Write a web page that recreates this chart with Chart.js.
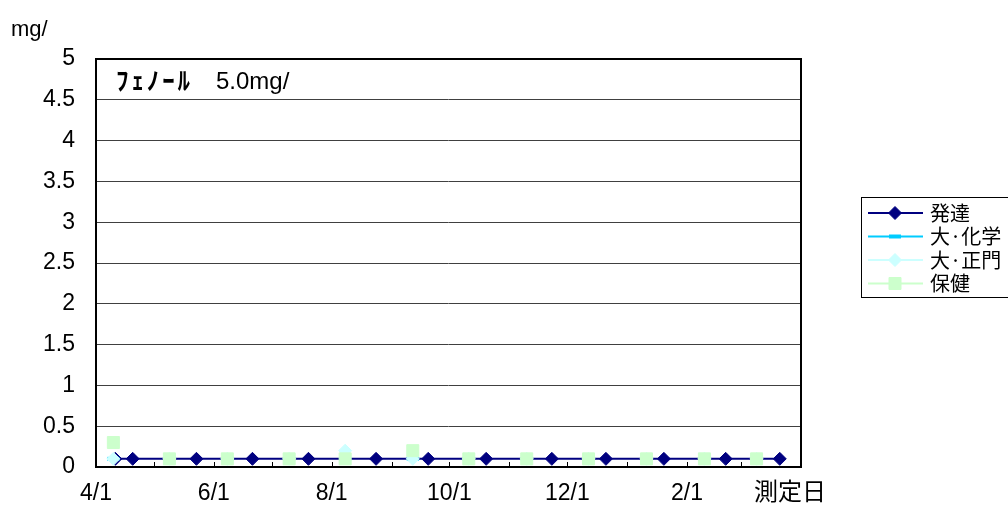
<!DOCTYPE html>
<html>
<head>
<meta charset="utf-8">
<script src="https://cdn.jsdelivr.net/npm/chart.js@4.4.1/dist/chart.umd.min.js"></script>
<style>
  html, body { margin: 0; background: #fff; }
</style>
</head>
<body>
<canvas id="phenolChart" width="1008" height="523"></canvas>
<script>
// data (dates are M/D within one fiscal year, 4/1 .. 3/31)
const seriesNames = ['発達', '大·化学', '大·正門', '保健'];

const hattatsuDates  = ['4/11', '4/20', '5/23', '6/21', '7/20', '8/24', '9/20', '10/20', '11/23', '12/21', '1/20', '2/21', '3/21'];
const hattatsuValues = [0.1, 0.1, 0.1, 0.1, 0.1, 0.1, 0.1, 0.1, 0.1, 0.1, 0.1, 0.1, 0.1];

const kagakuDates  = ['4/10', '5/9', '6/8', '7/10', '8/8', '9/12', '10/11', '11/10', '12/12', '1/11', '2/10', '3/9'];
const kagakuValues = [0.1, 0.1, 0.1, 0.1, 0.1, 0.1, 0.1, 0.1, 0.1, 0.1, 0.1, 0.1];

const seimonDates  = ['4/10', '5/9', '6/8', '7/10', '8/8', '9/12', '10/11', '11/10', '12/12', '1/11', '2/10', '3/9'];
const seimonValues = [0.1, 0.1, 0.1, 0.1, 0.2, 0.1, 0.1, 0.1, 0.1, 0.1, 0.1, 0.1];

const hokenDates  = ['4/10', '5/9', '6/8', '7/10', '8/8', '9/12', '10/11', '11/10', '12/12', '1/11', '2/10', '3/9'];
const hokenValues = [0.3, 0.1, 0.1, 0.1, 0.1, 0.2, 0.1, 0.1, 0.1, 0.1, 0.1, 0.1];

const monthTicks  = ['4/1', '5/1', '6/1', '7/1', '8/1', '9/1', '10/1', '11/1', '12/1', '1/1', '2/1', '3/1'];
const xTickLabels = ['4/1', '6/1', '8/1', '10/1', '12/1', '2/1'];
const yMin = 0, yMax = 5, yStep = 0.5;

const unitText = 'mg/';
const noteName = 'ﾌｪﾉｰﾙ';
const noteLimit = '5.0mg/';
const xTitle = '測定日';

// days from 4/1
const monthOrder = [4, 5, 6, 7, 8, 9, 10, 11, 12, 1, 2, 3];
const monthDays  = [30, 31, 30, 31, 31, 30, 31, 30, 31, 31, 28, 31];
function dayOf(s) {
  const [m, d] = s.split('/').map(Number);
  let n = 0;
  for (let i = 0; i < monthOrder.indexOf(m); i++) n += monthDays[i];
  return n + d - 1;
}
const yearEnd = monthDays.reduce((a, b) => a + b, 0);
const tickValues = monthTicks.map(dayOf).concat([yearEnd]);

function pts(dates, values) {
  return dates.map((d, i) => ({ x: dayOf(d), y: values[i] }));
}

const sansFont = '"Liberation Sans", Arial, sans-serif';
const cjkFont = '"Noto Sans CJK JP", sans-serif';

// plot frame, inward tick marks, texts and the boxed legend
const decor = {
  id: 'decor',
  afterDraw(chart) {
    const { ctx, chartArea: a, scales } = chart;
    ctx.save();

    // tick marks pointing up into the plot
    ctx.strokeStyle = '#000';
    ctx.lineWidth = 1;
    tickValues.forEach(v => {
      const x = Math.round(scales.x.getPixelForValue(v)) + 0.5;
      ctx.beginPath();
      ctx.moveTo(x, a.bottom - 5);
      ctx.lineTo(x, a.bottom);
      ctx.stroke();
    });

    ctx.lineWidth = 2;
    ctx.strokeRect(a.left, a.top, a.right - a.left, a.bottom - a.top);

    ctx.fillStyle = '#000';
    ctx.textBaseline = 'alphabetic';
    ctx.textAlign = 'left';
    ctx.font = '22px ' + sansFont;
    ctx.fillText(unitText, 11, 36);

    ctx.font = 'bold 25px ' + cjkFont;
    [...noteName].forEach((ch, i) => ctx.fillText(ch, 116 + i * 15.4, 90));
    ctx.font = '24px ' + sansFont;
    ctx.fillText(noteLimit, 216, 89);

    ctx.font = '24px ' + cjkFont;
    ctx.textAlign = 'center';
    ctx.fillText(xTitle, 790, 500);

    // legend
    ctx.lineWidth = 1;
    ctx.strokeRect(861.5, 197.5, 200, 100);
    chart.data.datasets.forEach((ds, i) => {
      const y = 213 + i * 23.5;
      ctx.strokeStyle = ds.borderColor;
      ctx.lineWidth = 2;
      ctx.beginPath();
      ctx.moveTo(868, y);
      ctx.lineTo(923, y);
      ctx.stroke();
      ctx.fillStyle = ds.pointBackgroundColor;
      ctx.strokeStyle = ds.pointBorderColor;
      ctx.lineWidth = ds.pointBorderWidth;
      Chart.helpers.drawPoint(ctx, {
        pointStyle: ds.pointStyle,
        radius: ds.pointRadius,
        borderWidth: ds.pointBorderWidth
      }, 895, y);
      ctx.fillStyle = '#000';
      ctx.font = '20px ' + cjkFont;
      ctx.textAlign = 'left';
      ctx.textBaseline = 'middle';
      ctx.fillText(ds.label, 930, y);
    });
    ctx.restore();
  }
};

new Chart(document.getElementById('phenolChart'), {
  type: 'line',
  data: {
    datasets: [
      {
        label: seriesNames[0],
        data: pts(hattatsuDates, hattatsuValues),
        borderColor: '#000080',
        borderWidth: 2,
        pointStyle: 'rectRot',
        pointRadius: 6.5,
        pointBackgroundColor: '#000080',
        pointBorderColor: '#000080',
        pointBorderWidth: 1,
        order: 3
      },
      {
        label: seriesNames[1],
        data: pts(kagakuDates, kagakuValues),
        showLine: false,
        borderColor: '#00ccff',
        pointStyle: 'line',
        pointRadius: 6,
        pointBackgroundColor: '#00ccff',
        pointBorderColor: '#00ccff',
        pointBorderWidth: 4,
        order: 2
      },
      {
        label: seriesNames[2],
        data: pts(seimonDates, seimonValues),
        showLine: false,
        borderColor: '#ccffff',
        pointStyle: 'rectRot',
        pointRadius: 6.5,
        pointBackgroundColor: '#ccffff',
        pointBorderColor: '#ccffff',
        pointBorderWidth: 1,
        order: 1
      },
      {
        label: seriesNames[3],
        data: pts(hokenDates, hokenValues),
        showLine: false,
        borderColor: '#ccffcc',
        pointStyle: 'rect',
        pointRadius: 8.5,
        pointBackgroundColor: '#ccffcc',
        pointBorderColor: '#ccffcc',
        pointBorderWidth: 1,
        order: 0
      }
    ]
  },
  options: {
    responsive: false,
    animation: false,
    layout: { padding: { top: 59, right: 207, bottom: 0, left: 0 } },
    plugins: { legend: { display: false }, tooltip: { enabled: false } },
    scales: {
      x: {
        type: 'linear',
        min: 0,
        max: yearEnd,
        afterBuildTicks: s => { s.ticks = tickValues.map(v => ({ value: v })); },
        afterFit: s => { s.height = 56; },
        grid: { display: false, drawTicks: false },
        border: { display: false },
        ticks: {
          autoSkip: false,
          maxRotation: 0,
          padding: 13,
          color: '#000',
          font: { family: sansFont, size: 23 },
          callback: v => {
            const i = monthTicks.map(dayOf).indexOf(v);
            return i >= 0 && xTickLabels.includes(monthTicks[i]) ? monthTicks[i] : '';
          }
        }
      },
      y: {
        min: yMin,
        max: yMax,
        afterFit: s => { s.width = 96; },
        grid: { color: '#404040', lineWidth: 1, drawTicks: false },
        border: { display: false },
        ticks: {
          stepSize: yStep,
          padding: 21,
          color: '#000',
          font: { family: sansFont, size: 23 },
          callback: v => String(Number(v.toFixed(1)))
        }
      }
    }
  },
  plugins: [decor]
});
</script>
</body>
</html>
